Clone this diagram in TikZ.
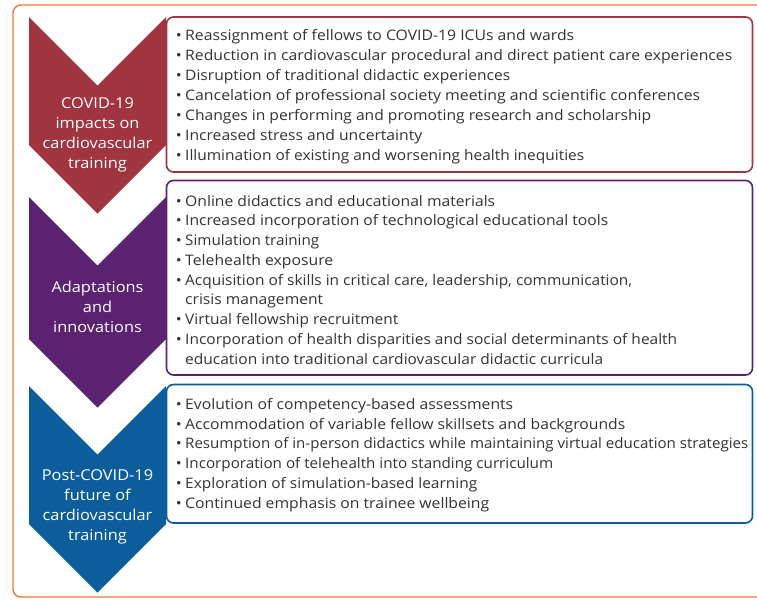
\documentclass[tikz,border=0pt]{standalone}
\usepackage{fontspec}
\usepackage{graphicx}
\setmainfont{Open Sans}[FakeStretch=1.09]
\definecolor{frameorange}{HTML}{E8793A}
\definecolor{cred}{HTML}{A0343F}
\definecolor{cpurple}{HTML}{5A2270}
\definecolor{cblue}{HTML}{0B5D9B}
\definecolor{txt}{HTML}{333333}
\newcommand{\bl}{\llap{•\hspace{3.5pt}}}
\newcommand{\fl}[2]{\resizebox{\dimexpr#1pt-185pt\relax}{\height}{#2}}
\begin{document}
\begin{tikzpicture}[x=1pt,y=-1pt,
  frame/.style={draw=frameorange,line width=1.4pt,rounded corners=8pt},
  lbl/.style={text=white,align=center,inner sep=0pt,font=\fontsize{15}{20}\selectfont},
  itembox/.style={line width=1.6pt,rounded corners=7pt,fill=white},
  line/.style={anchor=base west,inner sep=0pt,text=txt,font=\fontsize{14.5}{20}\selectfont},
]
\path[use as bounding box] (0,0) rectangle (757,600);
% outer frame
\draw[frame] (775,5) -- (13,5) -- (13,597) -- (775,597);
% chevrons
\fill[cred] (29,17) -- (97.5,85.5) -- (166,17) -- (166,145) -- (97.5,213.5) -- (29,145) -- cycle;
\fill[cpurple] (29,197) -- (97.5,265.5) -- (166,197) -- (166,339) -- (97.5,407.5) -- (29,339) -- cycle;
\fill[cblue] (29,386) -- (97.5,454.5) -- (166,386) -- (166,524) -- (97.5,592.5) -- (29,524) -- cycle;
\node[lbl] (c1) at (97.5,135) {COVID-19\\impacts on\\cardiovascular\\training};
\node[lbl] (c2) at (97.5,307) {Adaptations\\and\\innovations};
\node[lbl] (c3) at (97.5,507) {Post-COVID-19\\future of\\cardiovascular\\training};
% boxes
\draw[itembox,draw=cred] (166.5,17) rectangle (752.5,172);
\draw[itembox,draw=cpurple] (166.5,180.5) rectangle (752.5,375);
\draw[itembox,draw=cblue] (166.5,384.5) rectangle (752.5,523);
% box 1
\node[line] (a1) at (185,40) {\bl\fl{574}{Reassignment of fellows to COVID-19 ICUs and wards}};
\node[line] (a2) at (185,60) {\bl\fl{732}{Reduction in cardiovascular procedural and direct patient care experiences}};
\node[line] (a3) at (185,80) {\bl\fl{510}{Disruption of traditional didactic experiences}};
\node[line] (a4) at (185,100) {\bl\fl{700}{Cancelation of professional society meeting and scientific conferences}};
\node[line] (a5) at (185,120) {\bl\fl{651}{Changes in performing and promoting research and scholarship}};
\node[line] (a6) at (185,140) {\bl\fl{422}{Increased stress and uncertainty}};
\node[line] (a7) at (185,160) {\bl\fl{584}{Illumination of existing and worsening health inequities}};
% box 2
\node[line] (b1) at (185,206) {\bl\fl{495}{Online didactics and educational materials}};
\node[line] (b2) at (185,225.75) {\bl\fl{608}{Increased incorporation of technological educational tools}};
\node[line] (b3) at (185,245.5) {\bl\fl{319}{Simulation training}};
\node[line] (b4) at (185,265.25) {\bl\fl{333}{Telehealth exposure}};
\node[line] (b5) at (185,285) {\bl\fl{632}{Acquisition of skills in critical care, leadership, communication,}};
\node[line] (b6) at (185,304.75) {\fl{323}{crisis management}};
\node[line] (b7) at (185,324.5) {\bl\fl{398}{Virtual fellowship recruitment}};
\node[line] (b8) at (185,344.25) {\bl\fl{677}{Incorporation of health disparities and social determinants of health}};
\node[line] (b9) at (185,364) {\fl{603}{education into traditional cardiovascular didactic curricula}};
% box 3
\node[line] (d1) at (185,409.5) {\bl\fl{513}{Evolution of competency-based assessments}};
\node[line] (d2) at (185,429.2) {\bl\fl{625}{Accommodation of variable fellow skillsets and backgrounds}};
\node[line] (d3) at (185,448.9) {\bl\fl{748}{Resumption of in-person didactics while maintaining virtual education strategies}};
\node[line] (d4) at (185,468.6) {\bl\fl{553}{Incorporation of telehealth into standing curriculum}};
\node[line] (d5) at (185,488.3) {\bl\fl{477}{Exploration of simulation-based learning}};
\node[line] (d6) at (185,508) {\bl\fl{489}{Continued emphasis on trainee wellbeing}};
\end{tikzpicture}
\end{document}
